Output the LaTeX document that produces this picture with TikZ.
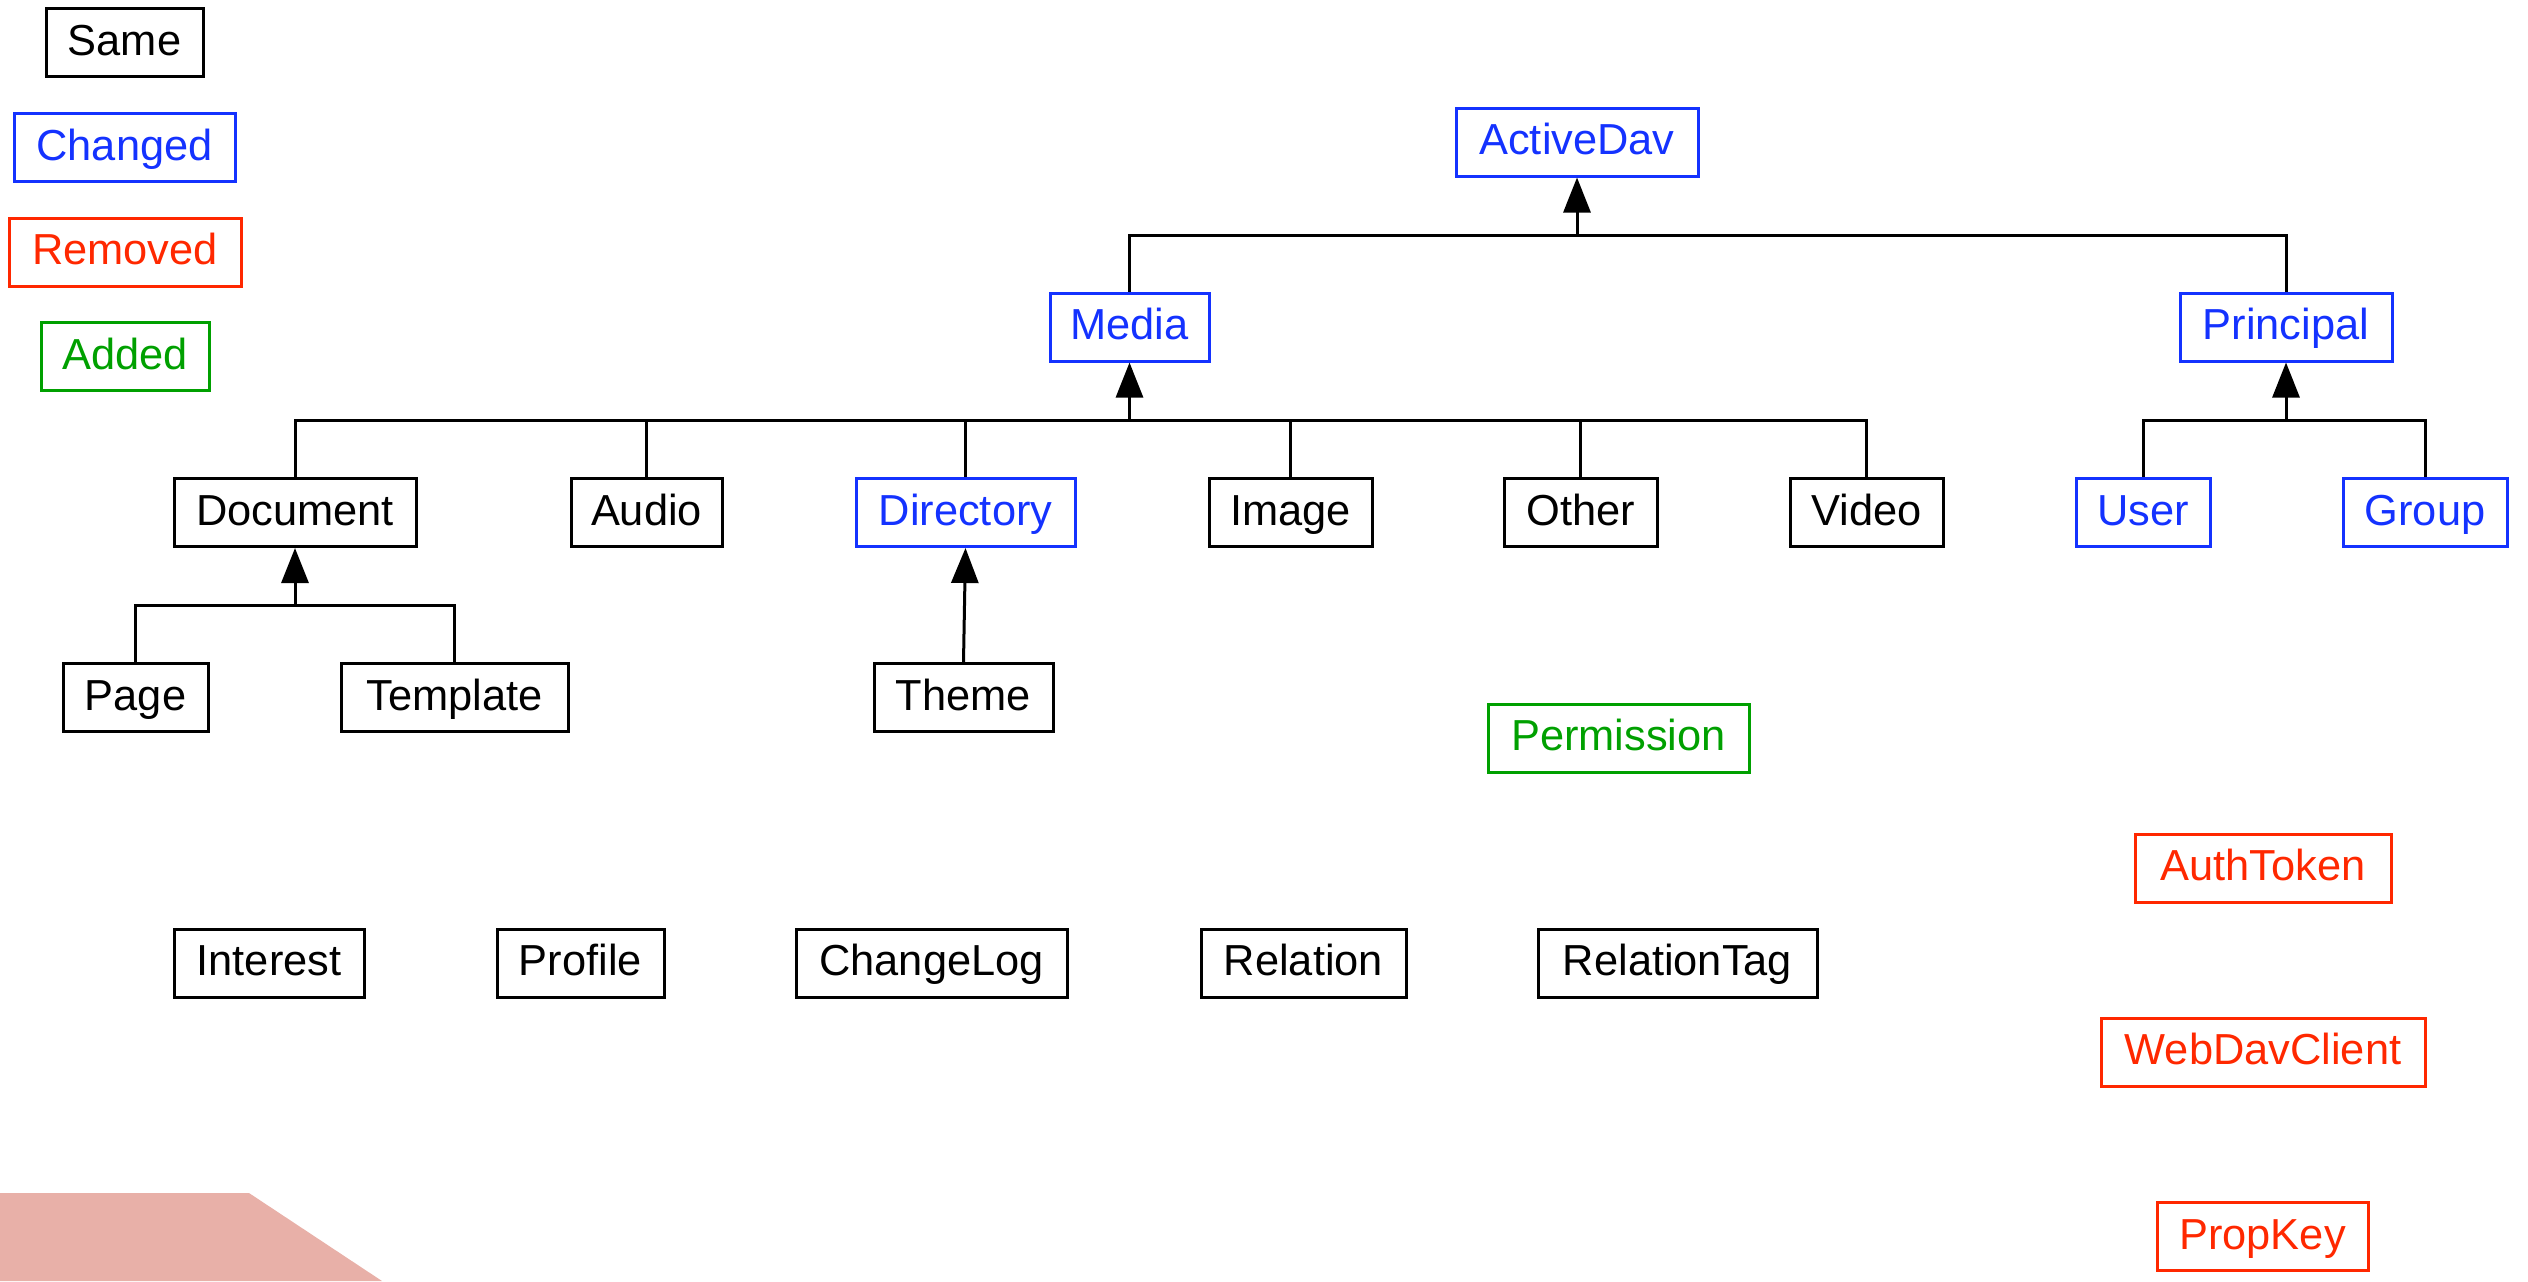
\documentclass[tikz,border=0pt]{standalone}
\usepackage{fontspec}
\setmainfont{Liberation Sans}
\usetikzlibrary{arrows.meta}
\definecolor{cblue}{RGB}{20,50,255}
\definecolor{cred}{RGB}{255,40,0}
\definecolor{cgreen}{RGB}{0,160,0}
\definecolor{cpink}{RGB}{232,176,168}
\tikzset{
  box/.style={draw, line width=1.5pt, minimum height=34pt, inner sep=0pt,
    text height=16pt, text depth=3.5pt,
    font=\fontsize{21.7}{26}\selectfont},
  same/.style={box, draw=black, text=black},
  chg/.style={box, draw=cblue, text=cblue},
  rem/.style={box, draw=cred, text=cred},
  add/.style={box, draw=cgreen, text=cgreen},
  conn/.style={line width=1.5pt, draw=black},
  inh/.style={conn, -{Triangle[width=13.5pt,length=17.5pt]}},
}
\begin{document}
\begin{tikzpicture}[x=0.5pt,y=-0.5pt]
\useasboundingbox (0,0) rectangle (2528,1281);
\fill[cpink] (0,1193) -- (249,1193) -- (382,1281) -- (0,1281) -- cycle;
% legend
\node[same, minimum width=78.5pt] (lsame) at (124.5,42.5) {Same};
\node[chg, minimum width=110.5pt] (lchg) at (124.5,147.5) {Changed};
\node[rem, minimum width=116pt] (lrem) at (125,252) {Removed};
\node[add, minimum width=84pt] (ladd) at (125,356.5) {Added};
% hierarchy
\node[chg, minimum width=121pt] (active) at (1577,142) {ActiveDav};
\node[chg, minimum width=79.5pt] (media) at (1129.5,327) {Media};
\node[chg, minimum width=106pt] (principal) at (2286,327) {Principal};
\node[same, minimum width=121pt] (doc) at (295,512.5) {Document};
\node[same, minimum width=75.5pt] (audio) at (646.5,512.5) {Audio};
\node[chg, minimum width=109.5pt] (dir) at (965.5,512.5) {Directory};
\node[same, minimum width=81.5pt] (image) at (1290.5,512.5) {Image};
\node[same, minimum width=76.5pt] (other) at (1580.5,512.5) {Other};
\node[same, minimum width=76.5pt] (video) at (1866.5,512.5) {Video};
\node[chg, minimum width=67pt] (user) at (2143,512.5) {User};
\node[chg, minimum width=82pt] (group) at (2425,512.5) {Group};
\node[same, minimum width=72.5pt] (page) at (135.5,697.5) {Page};
\node[same, minimum width=113.5pt] (template) at (454.5,697.5) {Template};
\node[same, minimum width=89.5pt] (theme) at (963.5,697.5) {Theme};
% others
\node[add, minimum width=130.5pt] (perm) at (1618.5,738) {Permission};
\node[same, minimum width=95pt] (interest) at (269,963) {Interest};
\node[same, minimum width=83.5pt] (profile) at (580.5,963) {Profile};
\node[same, minimum width=135.5pt] (changelog) at (931.5,963) {ChangeLog};
\node[same, minimum width=102.5pt] (relation) at (1303.5,963) {Relation};
\node[same, minimum width=139.5pt] (reltag) at (1677.5,963) {RelationTag};
\node[rem, minimum width=128pt] (auth) at (2263,868) {AuthToken};
\node[rem, minimum width=162pt] (webdav) at (2263,1052) {WebDavClient};
\node[rem, minimum width=105.5pt] (propkey) at (2262.5,1236.5) {PropKey};
% junctions
\coordinate (jA) at (1577,235);
\coordinate (jM) at (1129.5,420);
\coordinate (jP) at (2286,420);
\coordinate (jD) at (295,605);
% connectors
\draw[conn] (media.north) |- (jA);
\draw[conn] (principal.north) |- (jA);
\draw[inh] (jA) -- (active.south);
\foreach \c in {doc,audio,dir,image,other,video}{
  \draw[conn] (\c.north) |- (jM);
}
\draw[inh] (jM) -- (media.south);
\draw[conn] (user.north) |- (jP);
\draw[conn] (group.north) |- (jP);
\draw[inh] (jP) -- (principal.south);
\draw[conn] (page.north) |- (jD);
\draw[conn] (template.north) |- (jD);
\draw[inh] (jD) -- (doc.south);
\draw[inh] (theme.north) -- (dir.south);
\end{tikzpicture}
\end{document}
